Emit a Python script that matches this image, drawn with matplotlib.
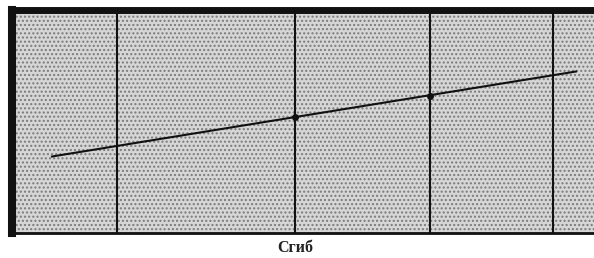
import matplotlib
matplotlib.use("Agg")
import matplotlib.pyplot as plt
import numpy as np

# fold lines and marked line (units along the strip)
fold_x = [117, 295, 430, 553]
line_x = [52, 576]
line_y = [76, 161]
mark_x = [295, 430]
mark_y = [116, 137]
label = "Сгиб"

fig = plt.figure(figsize=(5.94, 2.58), dpi=100)
ax = fig.add_axes([12 / 594, 25.5 / 258, 582 / 594, 222.5 / 258])
ax.set_xlim(12, 594)
ax.set_ylim(0, 222.5)

# stippled grey background
ax.set_facecolor("#d6d6d6")
ax.fill_between([12, 594], 0, 222.5, facecolor="none", edgecolor="#7a7a7a",
                hatch="....", linewidth=0)

for x in fold_x:
    ax.axvline(x, color="#111111", lw=1.5)

ax.plot(line_x, line_y, color="#111111", lw=1.5)
ax.plot(mark_x, mark_y, "o", color="#111111", ms=4)

ax.spines["left"].set_linewidth(5.8)
ax.spines["top"].set_linewidth(5.0)
ax.spines["bottom"].set_linewidth(2.0)
ax.spines["right"].set_visible(False)
for s in ax.spines.values():
    s.set_color("#111111")
ax.set_xticks([])
ax.set_yticks([])

fig.text(295 / 594, 1 - 248 / 258, label, ha="center", va="center",
         family="Liberation Serif", weight="bold", fontsize=11.5, color="#222222")

fig.savefig("out.png", dpi=100)
